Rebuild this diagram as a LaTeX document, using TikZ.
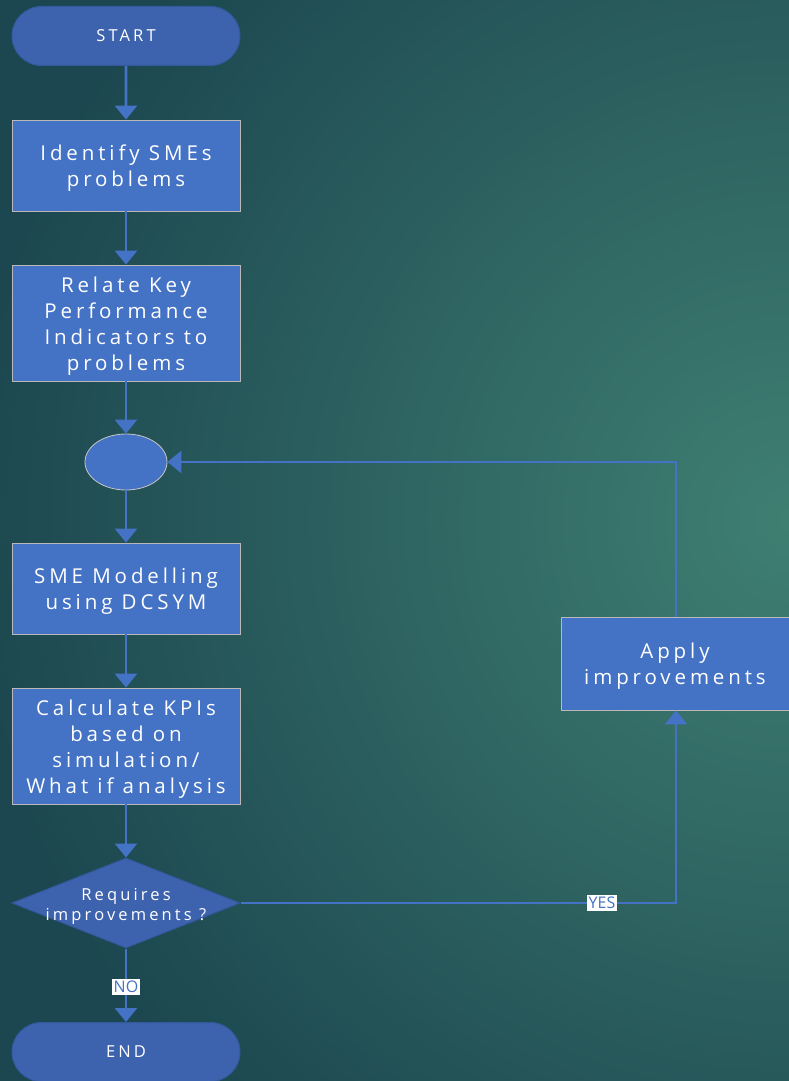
\documentclass[tikz,border=0pt]{standalone}
\usepackage{fontspec}
\setmainfont{Open Sans}[LetterSpace=19]
\usetikzlibrary{shapes.geometric,shapes.misc,arrows.meta}
\definecolor{bgdark}{HTML}{1C4750}
\definecolor{bglight}{HTML}{3F7F72}
\definecolor{boxfill}{HTML}{4472C4}
\definecolor{termfill}{HTML}{3E63AE}
\definecolor{termedge}{HTML}{34589C}
\definecolor{lineblue}{HTML}{4472C4}
\tikzset{
  x=1pt, y=-1pt,
  procbox/.style={rectangle, draw=gray!55, line width=0.8pt, fill=boxfill,
    minimum width=228pt, inner sep=0pt},
  boxtext/.style={text=white, align=center, font=\fontsize{20.5}{26}\selectfont, yshift=-3pt},
  term/.style={rounded rectangle, draw=termedge, line width=1pt, fill=termfill, text=white,
    minimum width=228pt, minimum height=59pt, font=\fontsize{16.5}{18}\selectfont, inner sep=0pt},
  decide/.style={diamond, draw=termedge, line width=1pt, fill=termfill, aspect=2.53,
    minimum width=228pt, minimum height=90pt, inner sep=0pt},
  decidetext/.style={text=white, align=center, font=\fontsize{16.5}{20}\selectfont, yshift=-3pt},
  junction/.style={ellipse, draw=gray!45, line width=0.8pt, fill=boxfill, minimum width=82pt, minimum height=56pt},
  flow/.style={draw=lineblue, line width=2.6pt, -{Triangle[length=14pt,width=22pt]}},
  tag/.style={fill=white, text=boxfill, font=\fontsize{16}{16}\selectfont\addfontfeatures{LetterSpace=0}, inner sep=2pt},
}
\begin{document}
\begin{tikzpicture}
\useasboundingbox (0,0) rectangle (789,1081);
\begin{scope}
\clip (0,0) rectangle (789,1081);
\fill[bgdark] (0,0) rectangle (789,1081);
\shade[inner color=bglight, outer color=bgdark] (790,520) circle (820);
\node[term] (start) at (126,36) {START};
\node[procbox, minimum height=91pt, label={[boxtext]center:{Identify SMEs\\problems}}] (ident) at (126,165.5) {};
\node[procbox, minimum height=116pt, label={[boxtext]center:{Relate Key\\Performance\\Indicators to\\problems}}] (relate) at (126,323) {};
\node[junction] (join) at (126,462) {};
\node[procbox, minimum height=91pt, label={[boxtext]center:{SME Modelling\\using DCSYM}}] (model) at (126,588.5) {};
\node[procbox, minimum height=116pt, label={[boxtext]center:{Calculate KPIs\\based on\\simulation/\\What if analysis}}] (calc) at (126,746) {};
\node[decide, label={[decidetext]center:{Requires\\improvements ?}}] (dec) at (126,903) {};
\node[term] (end) at (126,1052) {END};
\node[procbox, minimum height=93pt, label={[boxtext]center:{Apply\\improvements}}] (apply) at (675,663.5) {};
\coordinate (cr) at (676,903);
\coordinate (ct) at (676,462);
\draw[flow] (start) -- (ident);
\draw[flow] (ident) -- (relate);
\draw[flow] (relate) -- (join);
\draw[flow] (join) -- (model);
\draw[flow] (model) -- (calc);
\draw[flow] (calc) -- (dec);
\draw[flow] (dec) -- node[tag, pos=0.52] {NO} (end);
\draw[flow] (dec.east) -- node[tag, pos=0.83] {YES} (cr) -- (apply.south -| cr);
\draw[flow] (apply.north -| cr) -- (ct) -- (join.east);
\end{scope}
\end{tikzpicture}
\end{document}
